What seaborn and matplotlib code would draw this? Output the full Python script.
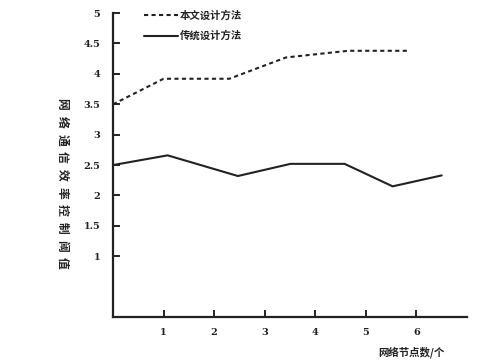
import matplotlib
matplotlib.use("Agg")
import matplotlib.pyplot as plt
import seaborn as sns
import pandas as pd
from matplotlib.lines import Line2D

# data
x_new = [0.0, 1.0, 2.3, 3.42, 4.65, 5.85]
y_new = [3.5, 3.92, 3.92, 4.27, 4.38, 4.38]
x_old = [0.0, 1.08, 2.47, 3.51, 4.58, 5.53, 6.5]
y_old = [2.5, 2.66, 2.32, 2.52, 2.52, 2.15, 2.33]
series_names = ["本文设计方法", "传统设计方法"]
x_ticks = [1, 2, 3, 4, 5, 6]
y_ticks = [1, 1.5, 2, 2.5, 3, 3.5, 4, 4.5, 5]
y_ticklabels = ["1", "1.5", "2", "2.5", "3", "3.5", "4", "4.5", "5"]
x_label = "网络节点数/个"
y_label = "网络通信效率控制阈值"

df = pd.concat([
    pd.DataFrame({"x": x_new, "y": y_new, "方法": series_names[0]}),
    pd.DataFrame({"x": x_old, "y": y_old, "方法": series_names[1]}),
], ignore_index=True)

sns.set_theme(style="white")
plt.rcParams["font.family"] = ["Noto Sans CJK SC", "DejaVu Sans"]

fig = plt.figure(figsize=(4.9, 3.64), dpi=100)
ax = fig.add_axes([0.2306, 0.129, 0.953 - 0.2306, 0.964 - 0.129])

sns.lineplot(data=df, x="x", y="y", hue="方法", style="方法",
             palette={series_names[0]: "#222222", series_names[1]: "#222222"},
             dashes={series_names[0]: (2, 1.6), series_names[1]: ""},
             linewidth=1.5, ax=ax, legend=False, sort=False)

ax.set_xlim(0, 7)
ax.set_ylim(0, 5)
ax.set_xticks(x_ticks)
ax.set_xticklabels([str(v) for v in x_ticks], family="DejaVu Serif",
                   fontweight="bold", fontsize=7)
ax.set_yticks(y_ticks)
ax.set_yticklabels(y_ticklabels, family="DejaVu Serif",
                   fontweight="bold", fontsize=7)
ax.tick_params(axis="both", direction="in", length=5, width=1.4,
               color="#222222", labelcolor="#222222", left=True, bottom=True)
ax.tick_params(axis="y", pad=9)
ax.tick_params(axis="x", pad=8)

for s in ["top", "right"]:
    ax.spines[s].set_visible(False)
for s in ["left", "bottom"]:
    ax.spines[s].set_color("#222222")
    ax.spines[s].set_linewidth(1.6)

ax.set_xlabel("")
ax.set_ylabel("")
# vertical y label with wide character spacing (top to bottom)
top_px, step_px = 104, 17.7
for i, ch in enumerate(y_label):
    ypx = top_px + i * step_px
    fig.text(62 / 490, 1 - ypx / 364, ch, rotation=270, ha="center", va="center",
             fontsize=8.5, fontweight="bold", color="#222222")
fig.text(0.84, 0.033, x_label, ha="center", va="center",
         fontsize=7.5, fontweight="bold", color="#222222")

handles = [
    Line2D([], [], color="#222222", lw=1.5, dashes=(2, 1.6)),
    Line2D([], [], color="#222222", lw=1.5),
]
leg = ax.legend(handles, series_names, loc="upper left",
                bbox_to_anchor=(0.06, 1.04), frameon=False,
                handlelength=3.3, handletextpad=0.15, labelspacing=0.95,
                prop={"family": ["Noto Sans CJK SC"], "weight": "bold", "size": 7.5})
for t in leg.get_texts():
    t.set_color("#222222")

fig.savefig("out.png", dpi=100, facecolor="white")
